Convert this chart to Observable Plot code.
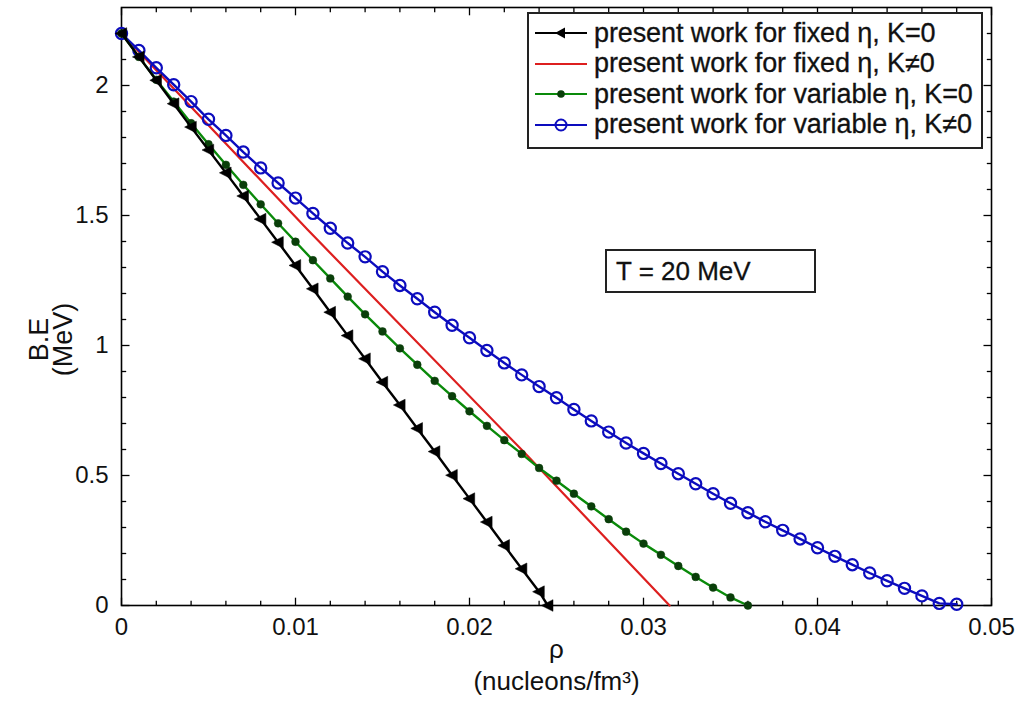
<!DOCTYPE html>
<html><head><meta charset="utf-8">
<script src="https://cdn.jsdelivr.net/npm/d3@7"></script>
<script src="https://cdn.jsdelivr.net/npm/@observablehq/plot@0.6"></script>
<style>
body{margin:0;background:#fff;font-family:"Liberation Sans",Arial,Helvetica,sans-serif;}
#wrap{position:relative;width:1021px;height:710px;overflow:hidden;}
.legend{position:absolute;left:527px;top:12px;width:456px;height:137px;border:2px solid #222;background:#fff;box-sizing:border-box;padding-top:4px;}
.row{display:flex;align-items:center;height:30.5px;}
.row svg{margin-left:4px;margin-right:5px;flex:none;}
.row span{font-size:27px;color:#111;white-space:nowrap;line-height:1;letter-spacing:-0.1px;-webkit-text-stroke:0.3px #111;}
.tbox{position:absolute;left:605px;top:249px;width:211px;height:44px;border:2px solid #222;box-sizing:border-box;background:#fff;font-size:26px;color:#111;padding-left:9px;line-height:40px;-webkit-text-stroke:0.3px #111;}
</style></head>
<body><div id="wrap"></div>
<script>
// ---- data ----
const rhoBlack = [0,0.001,0.002,0.003,0.004,0.005,0.006,0.007,0.008,0.009,0.010,0.011,0.012,0.013,0.014,0.015,0.016,0.017,0.018,0.019,0.020,0.021,0.022,0.023,0.024,0.0245];
const beBlack  = [2.200,2.110,2.020,1.930,1.840,1.752,1.664,1.575,1.486,1.397,1.308,1.218,1.128,1.038,0.949,0.859,0.771,0.681,0.592,0.501,0.411,0.321,0.231,0.141,0.053,0.0];

const rhoRed = [0,0.0107,0.0231,0.0315];
const beRed  = [2.200,1.445,0.592,0.0];

const rhoGreen = [0,0.001,0.002,0.003,0.004,0.005,0.006,0.007,0.008,0.009,0.010,0.011,0.012,0.013,0.014,0.015,0.016,0.017,0.018,0.019,0.020,0.021,0.022,0.023,0.024,0.025,0.026,0.027,0.028,0.029,0.030,0.031,0.032,0.033,0.034,0.035,0.036];
const beGreen  = [2.200,2.110,2.022,1.938,1.855,1.774,1.695,1.618,1.543,1.470,1.399,1.328,1.258,1.188,1.120,1.054,0.989,0.926,0.864,0.805,0.747,0.691,0.636,0.583,0.529,0.480,0.430,0.381,0.332,0.284,0.238,0.195,0.152,0.110,0.069,0.031,0.000];

const rhoBlue = [0,0.001,0.002,0.003,0.004,0.005,0.006,0.007,0.008,0.009,0.010,0.011,0.012,0.013,0.014,0.015,0.016,0.017,0.018,0.019,0.020,0.021,0.022,0.023,0.024,0.025,0.026,0.027,0.028,0.029,0.030,0.031,0.032,0.033,0.034,0.035,0.036,0.037,0.038,0.039,0.040,0.041,0.042,0.043,0.044,0.045,0.046,0.047,0.048];
const beBlue  = [2.200,2.135,2.068,2.003,1.938,1.870,1.808,1.744,1.683,1.625,1.567,1.508,1.451,1.394,1.341,1.284,1.231,1.180,1.128,1.078,1.030,0.981,0.933,0.887,0.842,0.799,0.754,0.710,0.667,0.625,0.585,0.546,0.507,0.468,0.430,0.393,0.357,0.322,0.289,0.256,0.222,0.189,0.157,0.125,0.095,0.066,0.037,0.008,0.005];

const seriesLabels = [
  "present work for fixed \u03b7, K=0",
  "present work for fixed \u03b7, K\u22600",
  "present work for variable \u03b7, K=0",
  "present work for variable \u03b7, K\u22600"
];
const xMajor = [0,0.01,0.02,0.03,0.04,0.05];
const xMinor = [0.002,0.004,0.006,0.008,0.012,0.014,0.016,0.018,0.022,0.024,0.026,0.028,0.032,0.034,0.036,0.038,0.042,0.044,0.046,0.048];
const yMajor = [0,0.5,1,1.5,2];
const yMinor = [0.1,0.2,0.3,0.4,0.6,0.7,0.8,0.9,1.1,1.2,1.3,1.4,1.6,1.7,1.8,1.9,2.1,2.2];
const annotation = "T = 20 MeV";

// ---- build tables ----
const zip = (xs, ys) => xs.map((x, i) => ({x, y: ys[i]}));
const black = zip(rhoBlack, beBlack), red = zip(rhoRed, beRed), green = zip(rhoGreen, beGreen), blue = zip(rhoBlue, beBlue);

const C = {black:"#000000", red:"#dd1f1f", green:"#0a8a0a", greenDot:"#0a3f0a", blue:"#0c0cbe"};

const triLeft = {draw(ctx, size){ const r = Math.sqrt(size/Math.PI); ctx.moveTo(-r,0); ctx.lineTo(r*0.8,-r*0.9); ctx.lineTo(r*0.8,r*0.9); ctx.closePath(); }};

const X0 = 0, X1 = 0.05, Y0 = 0, Y1 = 2.3;
const tkx = 0.00046, tkxm = 0.00027, tky = 0.03, tkym = 0.018;

// inward ticks on the four sides, positioned through the scales
const tickOpts = {stroke: "#000", strokeWidth: 1.3};
const xTicks = (vals, yBase, len) => Plot.link(vals, {x1: d => d, x2: d => d, y1: () => yBase, y2: () => yBase + len, ...tickOpts});
const yTicks = (vals, xBase, len) => Plot.link(vals, {y1: d => d, y2: d => d, x1: () => xBase, x2: () => xBase + len, ...tickOpts});

const chart = Plot.plot({
  width: 1021, height: 710,
  marginLeft: 121, marginRight: 30, marginTop: 7, marginBottom: 105,
  style: {fontFamily: '"Liberation Sans", Arial, Helvetica, sans-serif', fontSize: "24px", color: "#111", background: "#fff"},
  x: {domain: [X0, X1], ticks: xMajor, tickSize: 0, tickPadding: 12, tickFormat: d => String(d), label: null},
  y: {domain: [Y0, Y1], ticks: yMajor, tickSize: 0, tickPadding: 13, tickFormat: d => String(d), label: null},
  marks: [
    xTicks(xMajor, Y0, tky), xTicks(xMinor, Y0, tkym),
    xTicks(xMajor, Y1, -tky), xTicks(xMinor, Y1, -tkym),
    yTicks(yMajor, X0, tkx), yTicks(yMinor, X0, tkxm),
    yTicks(yMajor, X1, -tkx), yTicks(yMinor, X1, -tkxm),
    Plot.frame({stroke: "#000", strokeWidth: 1.6}),
    // series
    Plot.line(red, {x: "x", y: "y", stroke: C.red, strokeWidth: 2.2}),
    Plot.line(blue, {x: "x", y: "y", stroke: C.blue, strokeWidth: 2.4}),
    Plot.dot(blue, {x: "x", y: "y", r: 5.6, stroke: C.blue, strokeWidth: 2.2, fill: "none"}),
    Plot.line(green, {x: "x", y: "y", stroke: C.green, strokeWidth: 2.4}),
    Plot.dot(green, {x: "x", y: "y", r: 3.9, fill: C.greenDot, stroke: C.greenDot, strokeWidth: 0.5}),
    Plot.line(black, {x: "x", y: "y", stroke: C.black, strokeWidth: 2.4}),
    Plot.dot(black, {x: "x", y: "y", r: 6.5, symbol: triLeft, fill: C.black, stroke: C.black, strokeWidth: 0.5}),
    // axis titles
    Plot.text(["B.E"], {frameAnchor: "left", textAnchor: "middle", rotate: -90, dx: -82, dy: 33, fontSize: 27}),
    Plot.text(["(MeV)"], {frameAnchor: "left", textAnchor: "middle", rotate: -90, dx: -58, dy: 33, fontSize: 27}),
    Plot.text(["\u03c1"], {frameAnchor: "bottom", dy: 52, fontSize: 26}),
    Plot.text(["(nucleons/fm\u00b3)"], {frameAnchor: "bottom", dy: 84, fontSize: 26})
  ]
});

const wrap = document.getElementById("wrap");
wrap.appendChild(chart);

// legend overlay
const legend = document.createElement("div");
legend.className = "legend";
const sample = [
  `<line x1="2" y1="15" x2="54" y2="15" stroke="${C.black}" stroke-width="2.2"/><path d="M22,15 L32,9.5 L32,20.5 Z" fill="${C.black}"/>`,
  `<line x1="2" y1="15" x2="54" y2="15" stroke="${C.red}" stroke-width="2"/>`,
  `<line x1="2" y1="15" x2="54" y2="15" stroke="${C.green}" stroke-width="2.2"/><circle cx="28" cy="15" r="3.8" fill="${C.greenDot}"/>`,
  `<line x1="2" y1="15" x2="54" y2="15" stroke="${C.blue}" stroke-width="2.2"/><circle cx="28" cy="15" r="5.5" fill="none" stroke="${C.blue}" stroke-width="2"/>`
];
seriesLabels.forEach((t, i) => {
  const row = document.createElement("div");
  row.className = "row";
  row.innerHTML = `<svg width="56" height="30">${sample[i]}</svg><span>${t}</span>`;
  legend.appendChild(row);
});
wrap.appendChild(legend);

const tb = document.createElement("div");
tb.className = "tbox";
tb.textContent = annotation;
wrap.appendChild(tb);
</script>
</body></html>
